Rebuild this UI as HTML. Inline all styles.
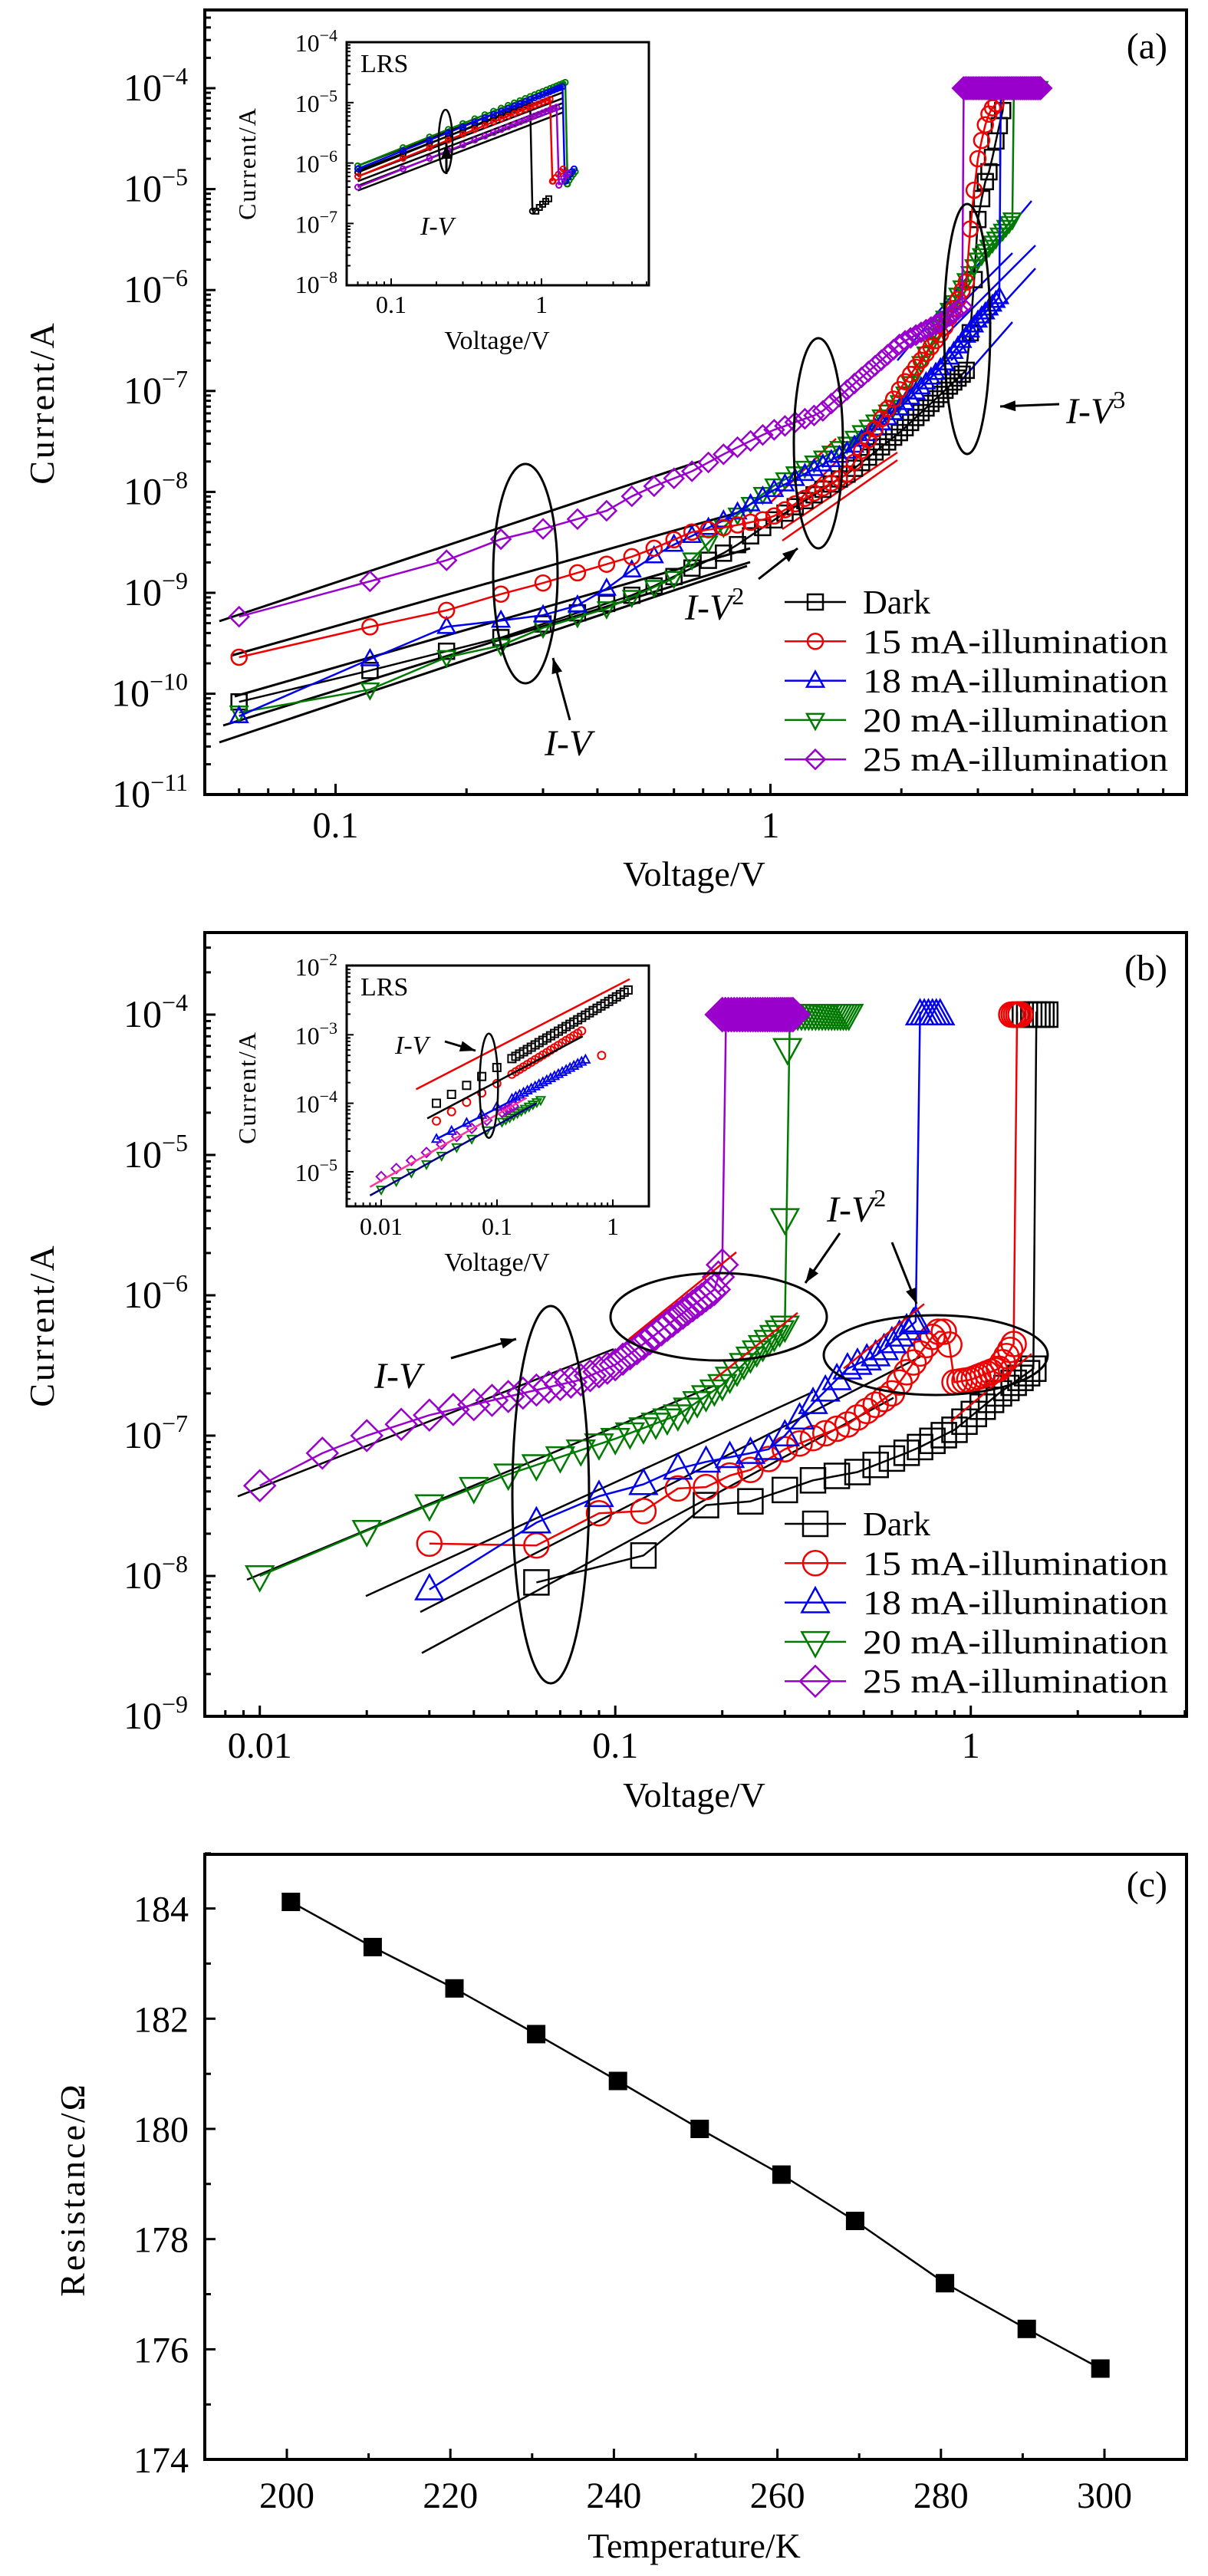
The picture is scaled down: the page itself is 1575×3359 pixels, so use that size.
<!DOCTYPE html>
<html><head><meta charset="utf-8">
<style>
html,body{margin:0;padding:0;background:#fff;}
svg{display:block;}
text{font-family:"Liberation Serif",serif;fill:#000;}
</style></head>
<body>
<svg id="s" xmlns="http://www.w3.org/2000/svg" width="1575" height="3359" viewBox="0 0 1575 3359"></svg>
<script>
const S=document.getElementById('s');let H='';
const L10=Math.log10;
function add(x){H+=x;}
function line(x1,y1,x2,y2,c,w,extra){add(`<line x1="${x1.toFixed(1)}" y1="${y1.toFixed(1)}" x2="${x2.toFixed(1)}" y2="${y2.toFixed(1)}" stroke="${c}" stroke-width="${w}" ${extra||''}/>`);}
function poly(pts,c,w){add(`<polyline points="${pts.map(p=>p[0].toFixed(1)+','+p[1].toFixed(1)).join(' ')}" fill="none" stroke="${c}" stroke-width="${w}" stroke-linejoin="round"/>`);}
function txt(x,y,s,fs,anchor,extra){add(`<text x="${x}" y="${y}" font-size="${fs}" text-anchor="${anchor||'start'}" ${extra||''}>${s}</text>`);}
function marker(t,x,y,r,c,w){
  let a=`fill="none" stroke="${c}" stroke-width="${w}"`;
  if(t=='sq')add(`<rect x="${(x-r).toFixed(1)}" y="${(y-r).toFixed(1)}" width="${2*r}" height="${2*r}" ${a}/>`);
  else if(t=='ci')add(`<circle cx="${x.toFixed(1)}" cy="${y.toFixed(1)}" r="${r}" ${a}/>`);
  else if(t=='tu')add(`<polygon points="${x},${y-r*1.2} ${x+r*1.1},${y+r*0.8} ${x-r*1.1},${y+r*0.8}" ${a}/>`);
  else if(t=='td')add(`<polygon points="${x},${y+r*1.2} ${x+r*1.1},${y-r*0.8} ${x-r*1.1},${y-r*0.8}" ${a}/>`);
  else if(t=='di')add(`<polygon points="${x},${y-r*1.25} ${x+r*1.25},${y} ${x},${y+r*1.25} ${x-r*1.25},${y}" ${a}/>`);
  else if(t=='fs')add(`<rect x="${(x-r).toFixed(1)}" y="${(y-r).toFixed(1)}" width="${2*r}" height="${2*r}" fill="${c}"/>`);
}
function interp(keys,V){
  const lv=L10(V);
  for(let i=0;i<keys.length-1;i++){
    const a=keys[i],b=keys[i+1];
    if(V<=b[0]||i==keys.length-2){
      const t=(lv-L10(a[0]))/(L10(b[0])-L10(a[0]));
      return Math.pow(10,L10(a[1])+t*(L10(b[1])-L10(a[1])));
    }
  }
}
function frame(x1,y1,x2,y2,w){add(`<rect x="${x1}" y="${y1}" width="${x2-x1}" height="${y2-y1}" fill="none" stroke="#000" stroke-width="${w}"/>`);}
function logTicksX(X,y,xmin,xmax,lo,hi,maj,min,w){
  for(let d=lo;d<=hi;d++)for(let m=1;m<10;m++){const v=m*Math.pow(10,d);const x=X(v);if(x<xmin+2||x>xmax-2)continue;line(x,y,x,y-(m==1?maj:min),'#000',w);}
}
function logTicksY(Y,x,ymin,ymax,lo,hi,maj,min,w){
  for(let d=lo;d<=hi;d++)for(let m=1;m<10;m++){const v=m*Math.pow(10,d);const y=Y(v);if(y<ymin+2||y>ymax-2)continue;line(x,y,x+(m==1?maj:min),y,'#000',w);}
}
function powLabel(xr,y,e,fs,sfs){add(`<text x="${xr}" y="${y}" font-size="${fs}" text-anchor="end">10<tspan font-size="${sfs}" dy="${-fs*0.42}">−${e}</tspan></text>`);}
function arrow(x1,y1,x2,y2){line(x1,y1,x2,y2,'#000',3);const a=Math.atan2(y2-y1,x2-x1),L=20,W=7;
 add(`<polygon points="${x2},${y2} ${x2-L*Math.cos(a)+W*Math.sin(a)},${y2-L*Math.sin(a)-W*Math.cos(a)} ${x2-L*Math.cos(a)-W*Math.sin(a)},${y2-L*Math.sin(a)+W*Math.cos(a)}" fill="#000"/>`);}

const COL={k:'#000',r:'#ee0000',b:'#0000ee',g:'#007a00',p:'#9900cc'};

/* ================= PANEL A ================= */
{
const X=v=>1004.5+567*L10(v), Y=i=>115+131.6*(-4-L10(i));
const x1=267,x2=1547,y1=13,y2=1036;
const fl=[[286,810,914,601],[301,855,978,664],[306,908,978,715],[291,946,978,733],[286,968,974,738]];
fl.forEach(l=>line(l[0],l[1],l[2],l[3],'#000',3));
const rl=[[1005,655,1090,572],[1015,680,1100,592],[1020,690,1170,590],[1020,705,1170,600]];
rl.forEach(l=>line(l[0],l[1],l[2],l[3],COL.r,2.5));
const bl=[[1170,470,1345,262],[1230,420,1320,330],[1230,440,1350,320],[1240,470,1350,350],[1250,500,1320,420]];
bl.forEach(l=>line(l[0],l[1],l[2],l[3],COL.b,2.5));
const ser=[
 {c:COL.k,m:'sq',set:3.42,k:[[0.06,8.3e-11],[0.12,1.7e-10],[0.24,3.6e-10],[0.5,1e-9],[0.8,2.6e-9],[1,5e-9],[1.5,1.5e-8],[2,4e-8],[2.82,1.6e-7],[2.9,5e-7],[3.0,5e-6],[3.1,1.1e-5],[3.2,1.6e-5],[3.3,3e-5],[3.42,6e-5]]},
 {c:COL.g,m:'td',set:3.6,k:[[0.06,6.5e-11],[0.12,1.1e-10],[0.18,2.3e-10],[0.24,3e-10],[0.3,4.5e-10],[0.42,7e-10],[0.6,1.4e-9],[0.8,5e-9],[1,1.1e-8],[1.5,3e-8],[2,8e-8],[2.5,5e-7],[3,2e-6],[3.6,5e-6]]},
 {c:COL.b,m:'tu',set:3.4,k:[[0.06,6e-11],[0.12,2.2e-10],[0.18,4.6e-10],[0.24,5.3e-10],[0.3,6e-10],[0.36,7.5e-10],[0.42,1.1e-9],[0.5,1.9e-9],[0.6,3e-9],[0.8,5.5e-9],[1,1e-8],[1.5,2.5e-8],[2,7e-8],[2.5,1.8e-7],[3,5e-7],[3.4,9e-7]]},
 {c:COL.r,m:'ci',set:3.3,k:[[0.06,2.3e-10],[0.12,4.6e-10],[0.18,6.7e-10],[0.24,9.7e-10],[0.3,1.25e-9],[0.5,2.4e-9],[0.66,4e-9],[0.8,4.5e-9],[1,5.5e-9],[1.5,1.5e-8],[2,1.1e-7],[2.5,4e-7],[2.82,1.2e-6],[2.9,6e-6],[3.0,2e-5],[3.1,4e-5],[3.2,6e-5],[3.3,7e-5]]},
 {c:COL.p,m:'di',set:2.78,k:[[0.06,5.8e-10],[0.12,1.3e-9],[0.18,2.1e-9],[0.24,3.4e-9],[0.3,4.3e-9],[0.42,6.5e-9],[0.5,1e-8],[0.66,1.6e-8],[0.8,2.5e-8],[1,4e-8],[1.3,6e-8],[1.6,1.3e-7],[2,3e-7],[2.5,5e-7],[2.78,7e-7]]}
];
ser.forEach(s=>{
  const pts=[];for(let v=0.06;v<=s.set+1e-6;v+=0.06){pts.push([X(v),Y(interp(s.k,v))]);}
  const last=pts[pts.length-1];
  pts.push([last[0]+2,Y(1e-4)]);
  poly(pts,s.c,2.5);
  pts.slice(0,-1).forEach(p=>marker(s.m,p[0],p[1],10,s.c,2.5));
});
for(let v=3.6;v<=4.15;v+=0.03)marker('td',X(v),Y(1e-4),10,COL.g,2.5);
for(let v=2.78;v<=4.2;v+=0.025)marker('di',X(v),Y(1e-4),11,COL.p,3);
add(`<rect x="${X(2.78)}" y="${Y(1e-4)-9}" width="${X(4.0)-X(2.78)}" height="18" fill="${COL.p}"/>`);
add(`<ellipse cx="685" cy="748" rx="42" ry="143" fill="none" stroke="#000" stroke-width="3"/>`);
add(`<ellipse cx="1067" cy="578" rx="32" ry="137" fill="none" stroke="#000" stroke-width="3"/>`);
add(`<ellipse cx="1261" cy="429" rx="30" ry="163" fill="none" stroke="#000" stroke-width="3"/>`);
arrow(743,939,721,858);arrow(989,755,1040,715);arrow(1381,527,1304,530);
add(`<text x="710" y="985" font-size="48" font-style="italic">I-V</text>`);
add(`<text x="893" y="808" font-size="48" font-style="italic">I-V<tspan font-size="32" dy="-20" font-style="normal">2</tspan></text>`);
add(`<text x="1390" y="552" font-size="48" font-style="italic">I-V<tspan font-size="32" dy="-20" font-style="normal">3</tspan></text>`);
const lg=[['sq',COL.k,'Dark'],['ci',COL.r,'15 mA-illumination'],['tu',COL.b,'18 mA-illumination'],['td',COL.g,'20 mA-illumination'],['di',COL.p,'25 mA-illumination']];
lg.forEach((l,i)=>{const y=785+i*51.3;line(1023,y,1103,y,l[1],2.5);marker(l[0],1063,y,10,l[1],2.5);
 add(`<text x="1125" y="${y+15}" font-size="44" ${i?'textLength="398" lengthAdjust="spacingAndGlyphs"':''}>${l[2]}</text>`);});
frame(x1,y1,x2,y2,4);
logTicksX(X,y2,x1,x2,-2,1,14,8,3);
logTicksY(Y,x1,y1,y2,-12,-3,14,8,3);
for(let e=4;e<=11;e++)powLabel(245,Y(Math.pow(10,-e))+16,e,50,32);
txt(X(0.1),1092,'0.1',48,'middle');txt(X(1),1092,'1',48,'middle');
txt(905,1155,'Voltage/V',46,'middle');
add(`<text transform="translate(70,525) rotate(-90)" font-size="46" text-anchor="middle" letter-spacing="3">Current/A</text>`);
txt(1522,76,'(a)',48,'end');
// inset a
const XI=v=>510+196*L10(v/0.1), YI=i=>55+78.8*(-4-L10(i));
const ix1=452,iy1=55,ix2=846,iy2=372;
add(`<rect x="${ix1}" y="${iy1}" width="${ix2-ix1}" height="${iy2-iy1}" fill="#fff"/>`);
const ins=[[COL.k,7e-7,1.42],[COL.g,9e-7,1.5],[COL.b,8e-7,1.45],[COL.r,6e-7,1.2],[COL.p,4e-7,1.3]];
for(let j=0;j<6;j++){const i0=[9e-7,7.5e-7,6e-7,5e-7,4.2e-7,3.5e-7][j];line(XI(0.06),YI(i0),XI(1.4),YI(i0*1.4/0.06*0.85),'#000',2.5);}
ins.forEach((s,j)=>{const pts=[];const vmax=[0.9,1.45,1.42,1.17,1.28][j];
 for(let v=0.06;v<=vmax;v+=0.06)pts.push([XI(v),YI(s[1]*Math.pow(v/0.06,1.0))]);
 const l=pts[pts.length-1];
 const low=[1.6e-7,4.5e-7,5e-7,5e-7,4.3e-7][j];
 pts.push([l[0]+3,YI(low)]);
 poly(pts,s[0],2.5);pts.forEach(p=>marker('ci',p[0],p[1],3.5,s[0],2));
 for(let k=0;k<5;k++){marker(j==0?'sq':'ci',XI(vmax*1.02+k*0.05),YI(low*(1+k*0.15)),3.5,s[0],2);}
});
add(`<ellipse cx="${XI(0.23)}" cy="${YI(2.3e-6)}" rx="9" ry="41" fill="none" stroke="#000" stroke-width="2.5"/>`);
arrow(582,227,582,187);
add(`<text x="548" y="306" font-size="34" font-style="italic">I-V</text>`);
txt(470,94,'LRS',34);
frame(ix1,iy1,ix2,iy2,3);
logTicksX(XI,iy2,ix1,ix2,-2,0,9,5,2);
logTicksY(YI,ix1,iy1,iy2,-8,-5,9,5,2);
for(let e=4;e<=8;e++)powLabel(440,YI(Math.pow(10,-e))+12,e,32,22);
txt(XI(0.1),408,'0.1',32,'middle');txt(XI(1),408,'1',32,'middle');
txt(648,455,'Voltage/V',34,'middle');
add(`<text transform="translate(333,213) rotate(-90)" font-size="32" text-anchor="middle" letter-spacing="2">Current/A</text>`);
}

/* ================= PANEL B ================= */
{
const X=v=>1265.7+463.5*L10(v), Y=i=>1323+183*(-4-L10(i));
const x1=267,x2=1547,y1=1216,y2=2238;
const Yd=y=>y/1.307+1180;
const fl=[[310,1008,800,757],[322,1150,930,820],[477,1178,1060,830],[548,1205,1200,770],[550,1275,1165,840]];
fl.forEach(l=>line(l[0],Yd(l[1]),l[2],Yd(l[3]),'#000',2.5));
const rl=[[820,740,960,592],[930,810,1040,695],[1100,790,1205,680],[1240,880,1345,765]];
const ser=[
 {c:COL.k,m:'sq',v:[0.06,0.12,0.18,0.24,0.3,0.36,0.42,0.48,0.54,0.6,0.66,0.72,0.78,0.84,0.9,0.96,1.02,1.08,1.14,1.2,1.26,1.32,1.38,1.44,1.5],k:[[0.06,9e-9],[0.12,1.4e-8],[0.18,3.2e-8],[0.24,3.4e-8],[0.3,4.1e-8],[0.36,4.8e-8],[0.48,5.5e-8],[0.7,8e-8],[0.9,1.1e-7],[1.2,2e-7],[1.5,3e-7]],set:1.53},
 {c:COL.r,m:'ci',v:[],k:[[0.03,1.7e-8],[0.06,1.65e-8],[0.09,2.8e-8],[0.12,2.9e-8],[0.15,4.2e-8],[0.18,4.3e-8],[0.21,5.2e-8],[0.24,5.7e-8],[0.3,8e-8],[0.45,1.2e-7],[0.6,2e-7],[0.7,3.5e-7],[0.8,5.5e-7],[0.86,5.5e-7],[0.9,2.4e-7],[1.0,2.5e-7],[1.2,3e-7],[1.32,4.5e-7]],set:1.35},
 {c:COL.b,m:'tu',v:[],k:[[0.03,8e-9],[0.06,2.4e-8],[0.09,3.7e-8],[0.12,4.5e-8],[0.15,5.8e-8],[0.18,6.5e-8],[0.24,7.5e-8],[0.27,8e-8],[0.3,1e-7],[0.36,1.7e-7],[0.45,3e-7],[0.55,3.8e-7],[0.7,6.5e-7]],set:0.72},
 {c:COL.g,m:'td',v:[],k:[[0.01,1e-8],[0.02,2.1e-8],[0.03,3.2e-8],[0.05,5.3e-8],[0.1,9.5e-8],[0.15,1.4e-7],[0.2,2.3e-7],[0.25,4e-7],[0.3,6e-7]],set:0.31},
 {c:COL.p,m:'di',v:[],k:[[0.01,4.4e-8],[0.015,7.5e-8],[0.02,1e-7],[0.03,1.4e-7],[0.05,1.9e-7],[0.08,2.5e-7],[0.1,3.2e-7],[0.12,4.5e-7],[0.15,7e-7],[0.19,1.1e-6],[0.2,1.65e-6]],set:0.205}
];
ser[1].v=[0.03,0.06,0.09,0.12,0.15,0.18,0.21,0.24,0.27,0.3,0.33,0.36,0.39,0.42,0.45,0.48,0.51,0.54,0.57,0.6,0.63,0.66,0.69,0.72,0.75,0.78,0.81,0.84,0.87,0.9,0.93,0.96,0.99,1.02,1.05,1.08,1.11,1.14,1.17,1.2,1.23,1.26,1.29,1.32];
ser[2].v=[0.03,0.06,0.09,0.12,0.15,0.18,0.21,0.24,0.27,0.3,0.33,0.36,0.39,0.42,0.45,0.48,0.51,0.54,0.57,0.6,0.63,0.66,0.69,0.7];
ser[3].v=[];for(let v=0.01;v<=0.3001;v+=0.01)ser[3].v.push(v);
ser[4].v=[0.01,0.015];for(let v=0.02;v<=0.2001;v+=0.005)ser[4].v.push(v);
ser.forEach(s=>{
  const pts=s.v.map(v=>[X(v),Y(interp(s.k,v))]);
  poly(pts.concat([[X(s.set),Y(1.05e-4)]]),s.c,2.5);
  pts.forEach(p=>marker(s.m,p[0],p[1],16,s.c,2.5));
});
rl.forEach(l=>line(l[0],Yd(l[1]),l[2],Yd(l[3]),COL.r,2.5));
marker('td',X(0.3),Y(3.5e-6),16,COL.g,2.5);marker('td',X(0.305),Y(5.7e-5),16,COL.g,2.5);
for(let v=1.42;v<=1.62;v+=0.04)marker('sq',X(v),Y(1e-4),16,COL.k,2.5);
for(let v=1.3;v<=1.4;v+=0.02)marker('ci',X(v),Y(1e-4),16,COL.r,2.5);
for(let v=0.72;v<=0.84;v+=0.02)marker('tu',X(v),Y(1e-4),16,COL.b,2.5);
for(let v=0.31;v<=0.46;v+=0.008)marker('td',X(v),Y(1e-4),16,COL.g,2.5);
for(let v=0.2;v<=0.32;v+=0.004)marker('di',X(v),Y(1e-4),17,COL.p,3);
add(`<rect x="${X(0.205)}" y="${Y(1e-4)-14}" width="${X(0.31)-X(0.205)}" height="28" fill="${COL.p}"/>`);
add(`<ellipse cx="718" cy="1949" rx="50" ry="246" fill="none" stroke="#000" stroke-width="3"/>`);
add(`<ellipse cx="937" cy="1717" rx="141" ry="57" fill="none" stroke="#000" stroke-width="3"/>`);
add(`<ellipse cx="1220" cy="1767" rx="146" ry="52" fill="none" stroke="#000" stroke-width="3"/>`);
arrow(588,1771,673,1746);arrow(1095,1608,1050,1673);arrow(1163,1620,1195,1700);
add(`<text x="488" y="1810" font-size="48" font-style="italic">I-V</text>`);
add(`<text x="1078" y="1593" font-size="48" font-style="italic">I-V<tspan font-size="32" dy="-20" font-style="normal">2</tspan></text>`);
const lg=[['sq',COL.k,'Dark'],['ci',COL.r,'15 mA-illumination'],['tu',COL.b,'18 mA-illumination'],['td',COL.g,'20 mA-illumination'],['di',COL.p,'25 mA-illumination']];
lg.forEach((l,i)=>{const y=1987+i*51.3;line(1023,y,1103,y,l[1],2.5);marker(l[0],1063,y,16,l[1],2.5);
 add(`<text x="1125" y="${y+15}" font-size="44" ${i?'textLength="398" lengthAdjust="spacingAndGlyphs"':''}>${l[2]}</text>`);});
frame(x1,y1,x2,y2,4);
logTicksX(X,y2,x1,x2,-3,1,14,8,3);
logTicksY(Y,x1,y1,y2,-10,-3,14,8,3);
for(let e=4;e<=9;e++)powLabel(245,Y(Math.pow(10,-e))+16,e,50,32);
txt(X(0.01),2292,'0.01',48,'middle');txt(X(0.1),2292,'0.1',48,'middle');txt(X(1),2292,'1',48,'middle');
txt(905,2356,'Voltage/V',46,'middle');
add(`<text transform="translate(70,1728) rotate(-90)" font-size="46" text-anchor="middle" letter-spacing="3">Current/A</text>`);
txt(1522,1278,'(b)',48,'end');
// inset b
const XI=v=>648+151*L10(v/0.1), YI=i=>1260+89.3*(-2-L10(i));
const ix1=452,iy1=1259,ix2=846,iy2=1573;
add(`<rect x="${ix1}" y="${iy1}" width="${ix2-ix1}" height="${iy2-iy1}" fill="#fff"/>`);
const ib=[
 {c:COL.k,m:'sq',a:0.03,b:1.4,i0:1e-4,s:1.0},
 {c:COL.r,m:'ci',a:0.03,b:0.55,i0:5.5e-5,s:1.05},
 {c:COL.b,m:'tu',a:0.03,b:0.6,i0:3e-5,s:0.9},
 {c:COL.g,m:'td',a:0.01,b:0.25,i0:5.5e-6,s:0.95},
 {c:COL.p,m:'di',a:0.01,b:0.15,i0:8.5e-6,s:0.9}
];
ib.forEach(s=>{const vs=[];let v=s.a;while(v<=s.b){vs.push(v);v*= (v<0.1?1.35:1.08);}
 vs.forEach(v=>marker(s.m,XI(v),YI(s.i0*Math.pow(v/s.a,s.s)),5,s.c,2));});
marker('ci',XI(0.8),YI(5e-4),5,COL.r,2);
line(XI(0.02),YI(1.6e-4),XI(1.4),YI(6.5e-3),COL.r,2.5);
line(XI(0.025),YI(6e-5),XI(0.55),YI(9.5e-4),'#000',2.5);
line(XI(0.008),YI(6e-6),XI(0.18),YI(1.2e-4),'#ff3399',2.5);
line(XI(0.008),YI(4.5e-6),XI(0.22),YI(1e-4),'#000080',2.5);
line(XI(0.03),YI(3e-5),XI(0.15),YI(1.2e-4),COL.b,2.5);
add(`<ellipse cx="${XI(0.085)}" cy="${YI(1.8e-4)}" rx="12" ry="68" fill="none" stroke="#000" stroke-width="2.5"/>`);
arrow(580,1358,620,1370);
add(`<text x="515" y="1374" font-size="34" font-style="italic">I-V</text>`);
txt(470,1298,'LRS',34);
frame(ix1,iy1,ix2,iy2,3);
logTicksX(XI,iy2,ix1,ix2,-3,0,9,5,2);
logTicksY(YI,ix1,iy1,iy2,-6,-3,9,5,2);
for(let e=2;e<=5;e++)powLabel(440,YI(Math.pow(10,-e))+12,e,32,22);
txt(XI(0.01),1610,'0.01',32,'middle');txt(XI(0.1),1610,'0.1',32,'middle');txt(XI(1),1610,'1',32,'middle');
txt(648,1657,'Voltage/V',34,'middle');
add(`<text transform="translate(333,1418) rotate(-90)" font-size="32" text-anchor="middle" letter-spacing="2">Current/A</text>`);
}

/* ================= PANEL C ================= */
{
const X=t=>374+10.66*(t-200), Y=r=>2488.6+71.85*(184-r);
const x1=267,x2=1547,y1=2418,y2=3207;
const d=[[200.5,184.12],[210.5,183.3],[220.5,182.55],[230.5,181.72],[240.5,180.87],[250.5,180.0],[260.5,179.17],[269.5,178.33],[280.5,177.2],[290.5,176.37],[299.5,175.65]];
poly(d.map(p=>[X(p[0]),Y(p[1])]),'#000',2.5);
d.forEach(p=>marker('fs',X(p[0]),Y(p[1]),12,'#000',0));
frame(x1,y1,x2,y2,4);
for(let t=200;t<=300;t+=10)line(X(t),y2,X(t),y2-(t%20==0?14:8),'#000',3);
for(let r=175;r<=185;r+=1)line(x1,Y(r),x1+(r%2==0?14:8),Y(r),'#000',3);
for(let t=200;t<=300;t+=20)txt(X(t),3270,t,48,'middle');
for(let r=174;r<=184;r+=2)txt(246,Y(r)+17,r,48,'end');
txt(905,3335,'Temperature/K',46,'middle');
add(`<text transform="translate(110,2855) rotate(-90)" font-size="46" text-anchor="middle" letter-spacing="3">Resistance/Ω</text>`);
txt(1522,2473,'(c)',48,'end');
}
S.innerHTML=H;
</script>
</body></html>
